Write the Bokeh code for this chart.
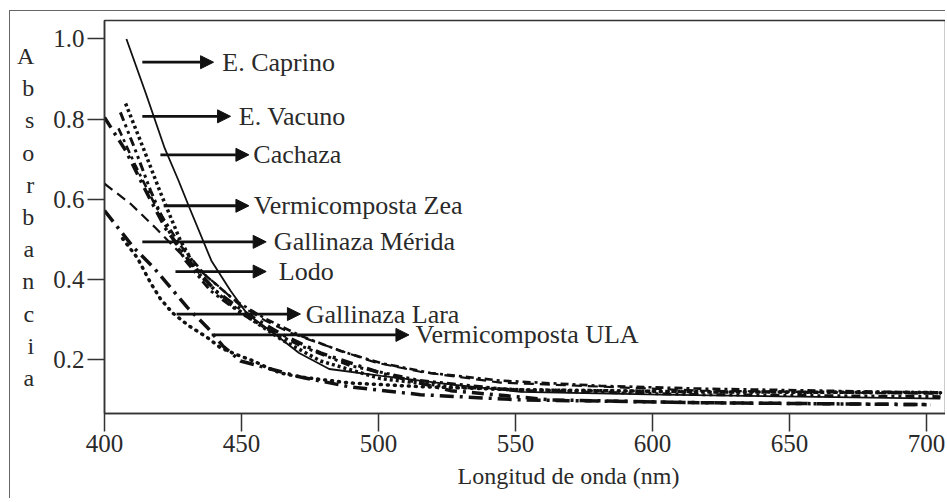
from bokeh.plotting import figure
from bokeh.models import Range1d, FixedTicker, PrintfTickFormatter, Label, Arrow, NormalHead, Title
from bokeh.embed import file_html
from bokeh.resources import INLINE

# ---------------- data (wavelength nm, absorbance) ----------------
wl_caprino = [408, 415, 422, 427, 431, 439, 446, 452, 462, 471, 482, 501, 527, 552, 603, 654, 705]
abs_caprino = [1.000, 0.866, 0.727, 0.647, 0.579, 0.447, 0.372, 0.315, 0.265, 0.217, 0.177, 0.160, 0.138, 0.120, 0.113, 0.108, 0.103]

wl_vacuno = [407.7, 414.2, 420.4, 427.7, 435.0, 444.2, 453.3, 464.2, 478.8, 500.7, 526.3, 551.8, 617.5, 705.1]
abs_vacuno = [0.839, 0.727, 0.617, 0.497, 0.410, 0.347, 0.302, 0.252, 0.197, 0.153, 0.133, 0.125, 0.120, 0.118]

wl_cachaza = [405.8, 411.3, 416.8, 422.3, 429.6, 438.7, 449.6, 460.6, 471.5, 489.8, 515.3, 551.8, 617.5, 705.1]
abs_cachaza = [0.817, 0.722, 0.622, 0.535, 0.447, 0.372, 0.317, 0.272, 0.235, 0.185, 0.148, 0.123, 0.113, 0.108]

wl_zea = [400.0, 407.7, 415.0, 422.3, 431.4, 440.5, 451.5, 464.2, 478.8, 500.7, 526.3, 562.8, 617.5, 701.5]
abs_zea = [0.804, 0.722, 0.622, 0.527, 0.442, 0.372, 0.317, 0.265, 0.217, 0.167, 0.123, 0.100, 0.093, 0.088]

wl_merida = [400.0, 409.5, 418.6, 429.6, 440.5, 449.6, 458.8, 467.9, 478.8, 498.9, 515.3, 544.5, 581.0, 617.5, 705.1]
abs_merida = [0.639, 0.589, 0.529, 0.452, 0.390, 0.335, 0.297, 0.267, 0.240, 0.193, 0.170, 0.143, 0.133, 0.123, 0.115]

wl_lodo = [405.1, 411.3, 418.6, 427.7, 436.9, 447.8, 458.8, 471.5, 486.1, 500.7, 519.0, 544.5, 581.0, 617.5, 705.1]
abs_lodo = [0.777, 0.684, 0.584, 0.485, 0.410, 0.347, 0.302, 0.260, 0.222, 0.192, 0.167, 0.148, 0.135, 0.128, 0.118]

wl_lara = [400.0, 410.6, 417.9, 424.1, 430.3, 437.6, 443.1, 449.6, 460.6, 471.5, 489.8, 515.3, 551.8, 617.5, 701.5]
abs_lara = [0.572, 0.480, 0.430, 0.380, 0.330, 0.280, 0.235, 0.197, 0.177, 0.157, 0.132, 0.113, 0.100, 0.093, 0.088]

wl_ula = [406.6, 412.0, 416.8, 420.4, 424.8, 430.7, 437.6, 442.3, 448.5, 454.4, 459.5, 464.2, 471.5, 489.8, 515.3, 551.8, 617.5, 705.1]
abs_ula = [0.502, 0.454, 0.392, 0.352, 0.317, 0.285, 0.255, 0.230, 0.212, 0.197, 0.180, 0.167, 0.157, 0.142, 0.133, 0.125, 0.120, 0.118]

series_names = ["E. Caprino", "E. Vacuno", "Cachaza", "Vermicomposta Zea",
                "Gallinaza Mérida", "Lodo", "Gallinaza Lara", "Vermicomposta ULA"]

x_ticks = [400, 450, 500, 550, 600, 650, 700]
y_ticks = [0.2, 0.4, 0.6, 0.8, 1.0]
y_title = "Absorbancia"
x_title = "Longitud de onda (nm)"

# ---------------- styling ----------------
FONT = "Liberation Serif"
TXT = "#2a2a2a"
INK = "#111111"

series = [
    (wl_caprino, abs_caprino, dict(line_width=1.8, line_dash="solid")),
    (wl_vacuno, abs_vacuno, dict(line_width=3.5, line_dash="3 3")),
    (wl_cachaza, abs_cachaza, dict(line_width=3.0, line_dash="9 4 3 4 3 4")),
    (wl_zea, abs_zea, dict(line_width=3.5, line_dash="12 6 3 6")),
    (wl_merida, abs_merida, dict(line_width=2.2, line_dash="10 6")),
    (wl_lodo, abs_lodo, dict(line_width=2.6, line_dash="8 4 3 4")),
    (wl_lara, abs_lara, dict(line_width=3.5, line_dash="14 6 3 6")),
    (wl_ula, abs_ula, dict(line_width=3.5, line_dash="1 6", line_cap="round")),
]

p = figure(width=936, height=488,
           x_range=Range1d(400, 706.9), y_range=Range1d(0.066, 1.046),
           output_backend="svg", toolbar_location=None,
           min_border_left=94, min_border_right=1, min_border_top=9, min_border_bottom=86)
p.title = None
p.grid.visible = False
p.outline_line_color = "#333333"
p.outline_line_width = 1.5
p.background_fill_color = "white"
p.border_fill_color = "white"

for ax in (p.xaxis[0], p.yaxis[0]):
    ax.axis_line_color = "#333333"
    ax.axis_line_width = 1.5
    ax.major_tick_line_color = "#333333"
    ax.major_tick_line_width = 1.5
    ax.major_tick_in = 0
    ax.minor_tick_line_color = None
    ax.major_label_text_font = FONT
    ax.major_label_text_font_size = "25px"
    ax.major_label_text_color = TXT

p.xaxis.ticker = FixedTicker(ticks=x_ticks)
p.xaxis.major_tick_out = 18
p.xaxis.major_label_standoff = 3
p.yaxis.ticker = FixedTicker(ticks=y_ticks)
p.yaxis.formatter = PrintfTickFormatter(format="%.1f")
p.yaxis.major_tick_out = 17
p.yaxis.major_label_standoff = 3

# stacked, upright y-axis title
yax = p.yaxis[0]
yax.axis_label = "\n".join(y_title)
yax.axis_label_text_font = FONT
yax.axis_label_text_font_size = "24px"
yax.axis_label_text_font_style = "normal"
yax.axis_label_text_color = TXT
yax.axis_label_text_line_height = 1.24
yax.axis_label_standoff = 16
try:
    yax.axis_label_orientation = "horizontal"
except Exception:
    pass
try:
    yax.axis_label_text_align = "center"
except Exception:
    pass

for xs, ys, st in series:
    p.line(xs, ys, line_color=INK, **st)

# annotations: arrows + labels (anchor positions in data units)
arrows = [
    # x_start, x_end, y_arrow, x_text
    (413.8, 439.8, 0.942, 443.0),
    (413.8, 446.0, 0.807, 449.0),
    (420.4, 452.7, 0.711, 454.3),
    (421.6, 452.7, 0.584, 454.5),
    (413.8, 459.0, 0.494, 461.8),
    (425.9, 459.0, 0.420, 463.6),
    (426.3, 471.5, 0.314, 473.4),
    (439.1, 511.1, 0.262, 513.5),
]
for name, (xs0, xe, ya, xt) in zip(series_names, arrows):
    p.add_layout(Arrow(end=NormalHead(size=13, fill_color=INK, line_color=INK, line_width=1),
                       x_start=xs0, y_start=ya, x_end=xe, y_end=ya,
                       line_color=INK, line_width=2.8))
    p.add_layout(Label(x=xt, y=ya, text=name, text_font=FONT, text_font_size="26px",
                       text_color=TXT, text_baseline="middle", text_align="left"))

xt = Title(text=x_title, align="left", offset=353, text_font=FONT,
           text_font_size="24px", text_font_style="normal", text_color=TXT, standoff=12)
p.add_layout(xt, "below")

p.styles = {"border-left": "1px solid #666666", "border-top": "1px solid #666666"}
p.margin = (10, 0, 0, 9)

open("out.html", "w").write(file_html(p, INLINE))
